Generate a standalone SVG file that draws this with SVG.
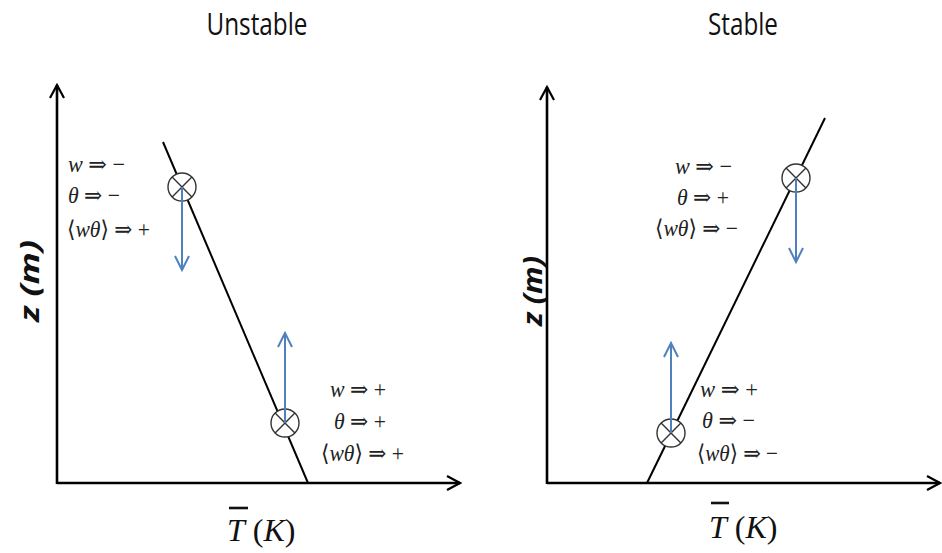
<svg xmlns="http://www.w3.org/2000/svg" width="942" height="553" viewBox="0 0 942 553">
<style>
.title{font-family:"Open Sans","Liberation Sans",sans-serif;font-size:31px;fill:#111;text-anchor:middle}
.zlab{font-family:"Open Sans","Liberation Sans",sans-serif;font-size:27px;font-weight:bold;font-style:italic;fill:#111;text-anchor:middle}
.math{font-family:"Liberation Serif","DejaVu Serif",serif;font-size:23px;fill:#222}
.it{font-style:italic}
.tk{font-family:"Liberation Serif","DejaVu Serif",serif;font-size:32px;fill:#111}
.axis{stroke:#000;stroke-width:2.6;fill:none}
.prof{stroke:#000;stroke-width:2;fill:none}
.parcel{stroke:#333;stroke-width:1.4;fill:#fff}
.blue{stroke:#4f81bd;stroke-width:2;fill:none}
</style>
<defs>
<marker id="ah" markerUnits="userSpaceOnUse" markerWidth="16" markerHeight="16" viewBox="0 0 16 16" refX="14" refY="8" orient="auto">
<path d="M1,1 L14,8 L1,15" fill="none" stroke="#000" stroke-width="2.2"/>
</marker>
<marker id="bh" markerUnits="userSpaceOnUse" markerWidth="18" markerHeight="18" viewBox="0 0 18 18" refX="15" refY="9" orient="auto">
<path d="M1,2 L15,9 L1,16" fill="none" stroke="#4f81bd" stroke-width="2"/>
</marker>
</defs>
<rect width="942" height="553" fill="#fff"/>

<g id="title-unstable"><text class="title" x="257" y="35" textLength="101" lengthAdjust="spacingAndGlyphs">Unstable</text></g>
<g id="title-stable"><text class="title" x="743" y="35" textLength="70" lengthAdjust="spacingAndGlyphs">Stable</text></g>

<g id="axes-left">
<line class="axis" x1="57" y1="484" x2="57" y2="85" marker-end="url(#ah)"/>
<line class="axis" x1="57" y1="483" x2="460" y2="483" marker-end="url(#ah)"/>
<text class="zlab" transform="translate(39,281) rotate(-90)" x="0" y="0" textLength="82" lengthAdjust="spacingAndGlyphs">z (m)</text>
<line x1="229" y1="508" x2="248" y2="508" stroke="#111" stroke-width="2.6"/>
<text class="tk" x="227" y="541"><tspan class="it">T</tspan> (<tspan class="it">K</tspan>)</text>
</g>

<g id="axes-right">
<line class="axis" x1="547" y1="484" x2="547" y2="87" marker-end="url(#ah)"/>
<line class="axis" x1="547" y1="483" x2="940" y2="483" marker-end="url(#ah)"/>
<text class="zlab" transform="translate(542,291) rotate(-90)" x="0" y="0" textLength="70" lengthAdjust="spacingAndGlyphs">z (m)</text>
<line x1="711" y1="503" x2="729" y2="503" stroke="#111" stroke-width="2.6"/>
<text class="tk" x="709" y="538"><tspan class="it">T</tspan> (<tspan class="it">K</tspan>)</text>
</g>

<g id="profile-left"><line class="prof" x1="163" y1="142" x2="308" y2="483"/></g>
<g id="profile-right"><line class="prof" x1="647" y1="483" x2="825" y2="118"/></g>

<g id="parcel-left-upper">
<circle class="parcel" cx="182" cy="187" r="14"/>
<path d="M172.1,177.1 L191.9,196.9 M191.9,177.1 L172.1,196.9" stroke="#333" stroke-width="1.4"/>
<text class="math" x="68" y="172" textLength="57" lengthAdjust="spacingAndGlyphs"><tspan class="it">w</tspan> ⇒ −</text>
<text class="math" x="68" y="203" textLength="52" lengthAdjust="spacingAndGlyphs"><tspan class="it">θ</tspan> ⇒ −</text>
<text class="math" x="67" y="237" textLength="83" lengthAdjust="spacingAndGlyphs">⟨<tspan class="it">wθ</tspan>⟩ ⇒ +</text>
</g>

<g id="parcel-left-lower">
<circle class="parcel" cx="285" cy="423" r="14"/>
<path d="M275.1,413.1 L294.9,432.9 M294.9,413.1 L275.1,432.9" stroke="#333" stroke-width="1.4"/>
<text class="math" x="330" y="397" textLength="56" lengthAdjust="spacingAndGlyphs"><tspan class="it">w</tspan> ⇒ +</text>
<text class="math" x="334" y="429" textLength="52" lengthAdjust="spacingAndGlyphs"><tspan class="it">θ</tspan> ⇒ +</text>
<text class="math" x="321" y="461" textLength="83" lengthAdjust="spacingAndGlyphs">⟨<tspan class="it">wθ</tspan>⟩ ⇒ +</text>
</g>

<g id="parcel-right-upper">
<circle class="parcel" cx="796" cy="178" r="14"/>
<path d="M786.1,168.1 L805.9,187.9 M805.9,168.1 L786.1,187.9" stroke="#333" stroke-width="1.4"/>
<text class="math" x="675" y="174" textLength="57" lengthAdjust="spacingAndGlyphs"><tspan class="it">w</tspan> ⇒ −</text>
<text class="math" x="677" y="205" textLength="52" lengthAdjust="spacingAndGlyphs"><tspan class="it">θ</tspan> ⇒ +</text>
<text class="math" x="655" y="236" textLength="83" lengthAdjust="spacingAndGlyphs">⟨<tspan class="it">wθ</tspan>⟩ ⇒ −</text>
</g>

<g id="parcel-right-lower">
<circle class="parcel" cx="671" cy="433" r="14"/>
<path d="M661.1,423.1 L680.9,442.9 M680.9,423.1 L661.1,442.9" stroke="#333" stroke-width="1.4"/>
<text class="math" x="700" y="397" textLength="58" lengthAdjust="spacingAndGlyphs"><tspan class="it">w</tspan> ⇒ +</text>
<text class="math" x="702" y="428" textLength="53" lengthAdjust="spacingAndGlyphs"><tspan class="it">θ</tspan> ⇒ −</text>
<text class="math" x="697" y="461" textLength="81" lengthAdjust="spacingAndGlyphs">⟨<tspan class="it">wθ</tspan>⟩ ⇒ −</text>
</g>

<g id="connectors">
<line class="blue" x1="182" y1="187" x2="182" y2="270" marker-end="url(#bh)"/>
<line class="blue" x1="285" y1="423" x2="285" y2="333" marker-end="url(#bh)"/>
<line class="blue" x1="796" y1="178" x2="796" y2="262" marker-end="url(#bh)"/>
<line class="blue" x1="671" y1="433" x2="671" y2="343" marker-end="url(#bh)"/>
</g>
</svg>
